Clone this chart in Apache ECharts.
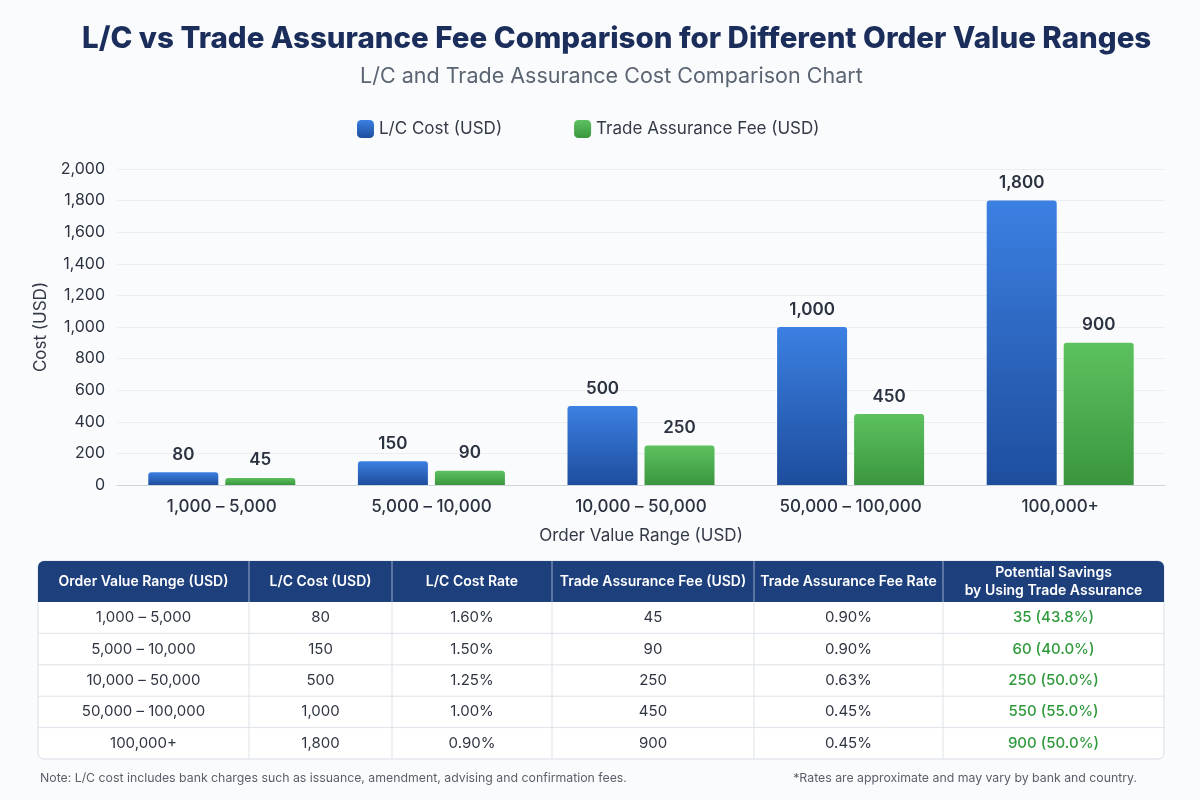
<!DOCTYPE html>
<html>
<head>
<meta charset="utf-8">
<script src="https://cdn.jsdelivr.net/npm/echarts@6/dist/echarts.min.js"></script>
<style>
html,body{margin:0;padding:0;background:#fafbfc;}
#chart{width:1200px;height:800px;}
</style>
</head>
<body>
<div id="chart"></div>
<script>
// ---- data ----
const categories = ['1,000 – 5,000', '5,000 – 10,000', '10,000 – 50,000', '50,000 – 100,000', '100,000+'];
const lcCost = [80, 150, 500, 1000, 1800];
const taFee = [45, 90, 250, 450, 900];
const lcRate = ['1.60%', '1.50%', '1.25%', '1.00%', '0.90%'];
const taRate = ['0.90%', '0.90%', '0.63%', '0.45%', '0.45%'];
const savings = ['35 (43.8%)', '60 (40.0%)', '250 (50.0%)', '550 (55.0%)', '900 (50.0%)'];
const tableHeaders = ['Order Value Range (USD)', 'L/C Cost (USD)', 'L/C Cost Rate', 'Trade Assurance Fee (USD)', 'Trade Assurance Fee Rate', 'Potential Savings\nby Using Trade Assurance'];
const noteLeft = 'Note: L/C cost includes bank charges such as issuance, amendment, advising and confirmation fees.';
const noteRight = '*Rates are approximate and may vary by bank and country.';

const FONT = 'Inter, "Noto Sans", sans-serif';
const fmt = v => v.toLocaleString('en-US');

// ---- table layout ----
const colX = [38, 249, 392, 552, 754, 943, 1164];
const headTop = 561, headH = 41, rowH = 31.4;
const tableBottom = headTop + headH + rowH * categories.length;
const rows = categories.map((c, i) => [c, fmt(lcCost[i]), lcRate[i], fmt(taFee[i]), taRate[i], savings[i]]);

const g = [];
g.push({type:'rect', shape:{x:colX[0], y:headTop, width:colX[6]-colX[0], height:tableBottom-headTop, r:6},
  style:{fill:'#ffffff', stroke:'#d8dde5', lineWidth:1}, z:1});
g.push({type:'rect', shape:{x:colX[0], y:headTop, width:colX[6]-colX[0], height:headH, r:[6,6,0,0]},
  style:{fill:'#1d3f7b'}, z:2});
for (let r = 1; r < categories.length; r++) {
  const y = headTop + headH + rowH * r;
  g.push({type:'line', shape:{x1:colX[0], y1:y, x2:colX[6], y2:y}, style:{stroke:'#dde2e9', lineWidth:1}, z:3});
}
for (let c = 1; c < colX.length - 1; c++) {
  g.push({type:'line', shape:{x1:colX[c], y1:headTop, x2:colX[c], y2:tableBottom}, style:{stroke:'#dde2e9', lineWidth:1}, z:3});
  g.push({type:'line', shape:{x1:colX[c], y1:headTop, x2:colX[c], y2:headTop+headH}, style:{stroke:'#3a5a92', lineWidth:1}, z:3});
}
tableHeaders.forEach((h, c) => {
  g.push({type:'text', x:(colX[c]+colX[c+1])/2, y:headTop+headH/2, z:4,
    style:{text:h, fill:'#ffffff', font:'600 14px ' + FONT, textAlign:'center', textVerticalAlign:'middle', lineHeight:18}});
});
rows.forEach((row, r) => {
  row.forEach((t, c) => {
    g.push({type:'text', x:(colX[c]+colX[c+1])/2, y:headTop+headH+rowH*r+rowH/2, z:4,
      style:{text:t, fill: c === 5 ? '#2f9a3c' : '#2f3542', font:(c===5?'500 ':'400 ') + '15px ' + FONT, textAlign:'center', textVerticalAlign:'middle'}});
  });
});
g.push({type:'text', x:40, y:778, style:{text:noteLeft, fill:'#5a5f69', font:'12.3px ' + FONT, textVerticalAlign:'middle'}});
g.push({type:'text', x:1137, y:778, style:{text:noteRight, fill:'#5a5f69', font:'12.3px ' + FONT, textAlign:'right', textVerticalAlign:'middle'}});

const chart = echarts.init(document.getElementById('chart'));
chart.setOption({
  backgroundColor:'#fafbfc',
  textStyle:{fontFamily:FONT},
  title:[
    {text:'L/C vs Trade Assurance Fee Comparison for Different Order Value Ranges', left:77, top:19,
      textStyle:{fontSize:29.5, fontWeight:800, color:'#1b2d5b', fontFamily:FONT}},
    {text:'L/C and Trade Assurance Cost Comparison Chart', left:355, top:61,
      textStyle:{fontSize:21.5, fontWeight:400, color:'#5b6472', fontFamily:FONT}}
  ],
  legend:{top:115, left:352, itemWidth:17, itemHeight:18, itemGap:72,
    textStyle:{fontSize:17, color:'#333a47', fontFamily:FONT},
    data:['L/C Cost (USD)', 'Trade Assurance Fee (USD)']},
  grid:{left:117, right:35, top:169, bottom:315},
  xAxis:{type:'category', data:categories, name:'Order Value Range (USD)', nameLocation:'middle', nameGap:42,
    nameTextStyle:{fontSize:17, color:'#333a47'},
    axisLine:{lineStyle:{color:'#cfd4db'}}, axisTick:{show:false},
    axisLabel:{fontSize:17, color:'#2b3240', fontWeight:500, margin:13}},
  yAxis:{type:'value', min:0, max:2000, interval:200, name:'Cost (USD)', nameLocation:'middle', nameGap:64,
    nameTextStyle:{fontSize:17, color:'#333a47'},
    axisLabel:{fontSize:16, color:'#2b3240', margin:12, formatter:v => fmt(v)},
    axisLine:{show:false}, axisTick:{show:false},
    splitLine:{lineStyle:{color:'#ebedf0'}}},
  series:[
    {name:'L/C Cost (USD)', type:'bar', data:lcCost, barWidth:70, barGap:'10%',
      itemStyle:{borderRadius:[3,3,0,0], color:new echarts.graphic.LinearGradient(0,0,0,1,[{offset:0,color:'#3b80e2'},{offset:1,color:'#1e4d9d'}])},
      label:{show:true, position:'top', distance:9, fontSize:17, fontWeight:600, color:'#2b3240', formatter:p => fmt(p.value)}},
    {name:'Trade Assurance Fee (USD)', type:'bar', data:taFee, barWidth:70,
      itemStyle:{borderRadius:[3,3,0,0], color:new echarts.graphic.LinearGradient(0,0,0,1,[{offset:0,color:'#5dc160'},{offset:1,color:'#3a963e'}])},
      label:{show:true, position:'top', distance:9, fontSize:17, fontWeight:600, color:'#2b3240', formatter:p => fmt(p.value)}}
  ],
  graphic:g
});
</script>
</body>
</html>
